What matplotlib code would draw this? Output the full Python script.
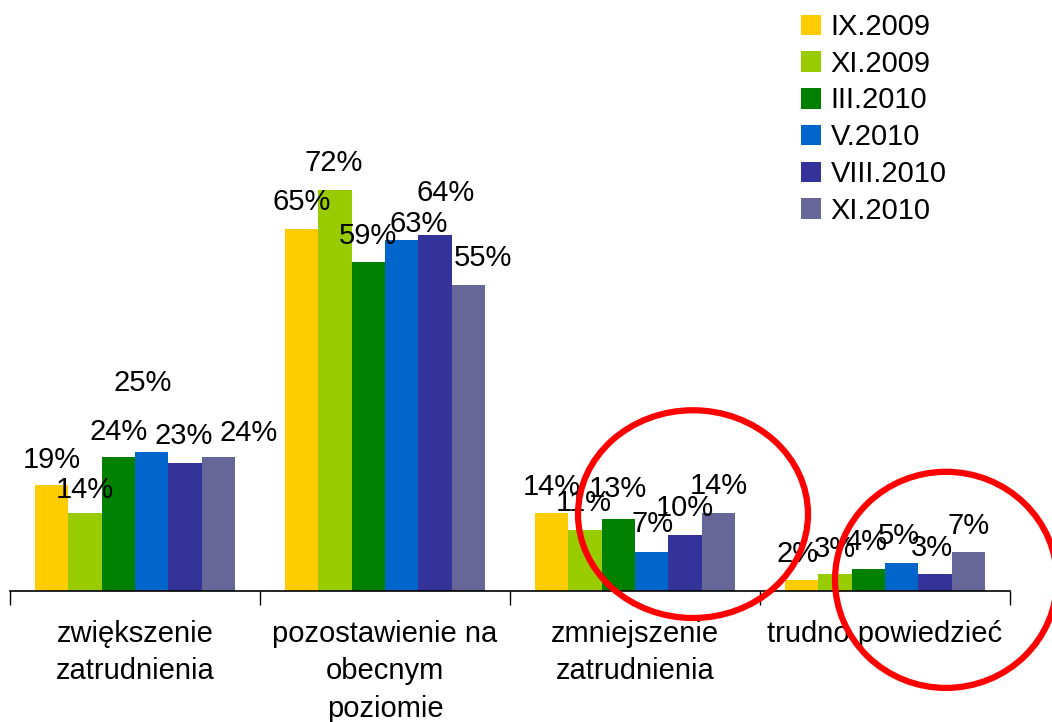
import matplotlib
matplotlib.use("Agg")
import matplotlib.pyplot as plt
from matplotlib.patches import Ellipse, Patch
import numpy as np

plt.rcParams['font.family'] = ['Liberation Sans', 'DejaVu Sans']

categories = ["zwiększenie\nzatrudnienia", "pozostawienie na\nobecnym\npoziomie",
              "zmniejszenie\nzatrudnienia", "trudno powiedzieć"]
series_names = ["IX.2009", "XI.2009", "III.2010", "V.2010", "VIII.2010", "XI.2010"]
ix_2009 = [19, 65, 14, 2]
xi_2009 = [14, 72, 11, 3]
iii_2010 = [24, 59, 13, 4]
v_2010 = [25, 63, 7, 5]
viii_2010 = [23, 64, 10, 3]
xi_2010 = [24, 55, 14, 7]
series_values = [ix_2009, xi_2009, iii_2010, v_2010, viii_2010, xi_2010]
colors = ["#FFCC00", "#99CC00", "#008000", "#0066CC", "#333399", "#666699"]

# label offsets (pixels) relative to bar-top centre: [series][category] -> (dx, dy)
label_offsets = [
    [(0, 25), (0, 27), (0, 26), (-4, 26)],
    [(0, 23), (-1, 27), (-1, 27), (0, 25)],
    [(0, 25), (0, 26), (0, 30), (-2, 27)],
    [(-9, 69), (17, 16), (1, 28), (-3, 27)],
    [(-1, 27), (11, 42), (0, 27), (-3, 26)],
    [(30, 24), (15, 27), (0, 27), (0, 26)],
]

W, H = 1052, 722
fig = plt.figure(figsize=(W / 100, H / 100), dpi=100)
base_y = 591
px_per_pct = 5.57
ymax = 80
ax_h = ymax * px_per_pct
ax = fig.add_axes([10 / W, (H - base_y) / H, 1000 / W, ax_h / H])

n = len(series_names)
x = np.arange(len(categories))
bw = 1.0 / (n + 1.5)
for j, (vals, col) in enumerate(zip(series_values, colors)):
    pos = x - 0.5 + 0.75 * bw + bw * (j + 0.5)
    bars = ax.bar(pos, vals, width=bw, color=col, label=series_names[j], zorder=2)
    for k, (b, v) in enumerate(zip(bars, vals)):
        dx, dy = label_offsets[j][k]
        ax.annotate(f"{v}%", (b.get_x() + b.get_width() / 2, v),
                    xytext=(dx, dy), textcoords='offset pixels',
                    ha='center', va='center', fontsize=21, zorder=3)

ax.set_xlim(-0.5, len(categories) - 0.5)
ax.set_ylim(0, ymax)
for s in ['top', 'right', 'left']:
    ax.spines[s].set_visible(False)
ax.spines['bottom'].set_linewidth(1.2)
ax.set_yticks([])
ax.set_xticks(x)
ax.set_xticklabels(categories, fontsize=21, linespacing=1.42)
ax.tick_params(axis='x', which='major', length=0, pad=21)
ax.set_xticks(np.arange(-0.5, len(categories)), minor=True)
ax.tick_params(axis='x', which='minor', length=10, width=1, color='black')

# red highlight ellipses
ax.add_patch(Ellipse((2.232, 13.8), 0.92, 37.3, fill=False, edgecolor='#FF0000',
                     linewidth=4.5, zorder=4, clip_on=False))
ax.add_patch(Ellipse((3.244, 2.0), 0.888, 38.8, fill=False, edgecolor='#FF0000',
                     linewidth=4.5, zorder=4, clip_on=False))

handles = [Patch(facecolor=c, edgecolor='none') for c in colors]
fig.legend(handles, series_names, loc='upper left',
           bbox_to_anchor=(801 / W, 1 - 13 / H), bbox_transform=fig.transFigure,
           frameon=False, fontsize=21, handlelength=0.7, handleheight=0.7,
           handletextpad=0.32, labelspacing=0.3, borderpad=0, borderaxespad=0)

fig.savefig("out.png", dpi=100)
